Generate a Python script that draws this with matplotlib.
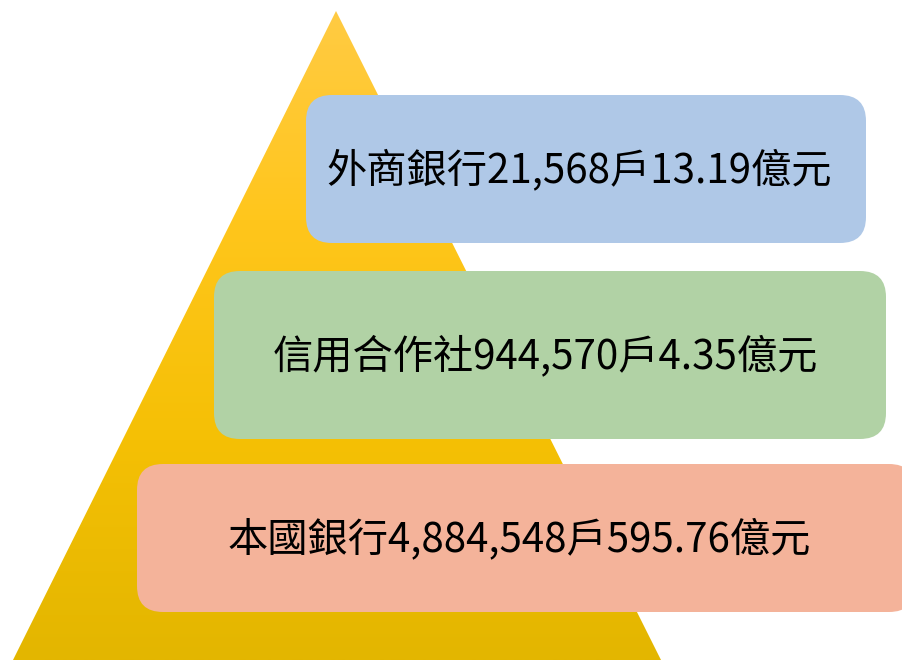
import numpy as np
import matplotlib.pyplot as plt
from matplotlib.patches import Polygon, FancyBboxPatch
from matplotlib.colors import LinearSegmentedColormap

plt.rcParams['font.family'] = ['Noto Sans CJK TC', 'DejaVu Sans']

# data
labels = ['外商銀行', '信用合作社', '本國銀行']
households = ['21,568', '944,570', '4,884,548']
amounts = ['13.19', '4.35', '595.76']

# layout (pixel coords, y down)
W, H = 903, 660
boxes = [(306, 95, 866, 243), (214, 271, 886, 439), (137, 464, 915, 612)]
colors = ['#AFC8E7', '#B1D2A5', '#F4B39A']
text_x = [579, 545, 519]
apex, base_l, base_r = (336, 11), (13, 660), (661, 660)

fig = plt.figure(figsize=(W / 100, H / 100), dpi=100)
ax = fig.add_axes([0, 0, 1, 1])
ax.set_xlim(0, W)
ax.set_ylim(H, 0)
ax.axis('off')

# yellow pyramid with a soft vertical gradient
cmap = LinearSegmentedColormap.from_list(
    'pyr', ['#FFCB45', '#FFC61C', '#F5C005', '#E3B600'])
grad = np.linspace(0, 1, 256).reshape(-1, 1)
img = ax.imshow(grad, cmap=cmap, extent=[0, W, H, 0], aspect='auto', zorder=1)
tri = Polygon([apex, base_l, base_r], closed=True, facecolor='none',
              edgecolor='none', transform=ax.transData)
ax.add_patch(tri)
img.set_clip_path(tri)

for (x0, y0, x1, y1), c, tx, lab, hh, amt in zip(boxes, colors, text_x,
                                                  labels, households, amounts):
    ax.add_patch(FancyBboxPatch((x0, y0), x1 - x0, y1 - y0,
                                boxstyle='round,pad=0,rounding_size=26',
                                facecolor=c, edgecolor='none', zorder=2))
    ax.text(tx, (y0 + y1) / 2 + 1, f'{lab}{hh}戶{amt}億元',
            ha='center', va='center', fontsize=29, color='black', zorder=3)

fig.savefig('out.png', dpi=100)
